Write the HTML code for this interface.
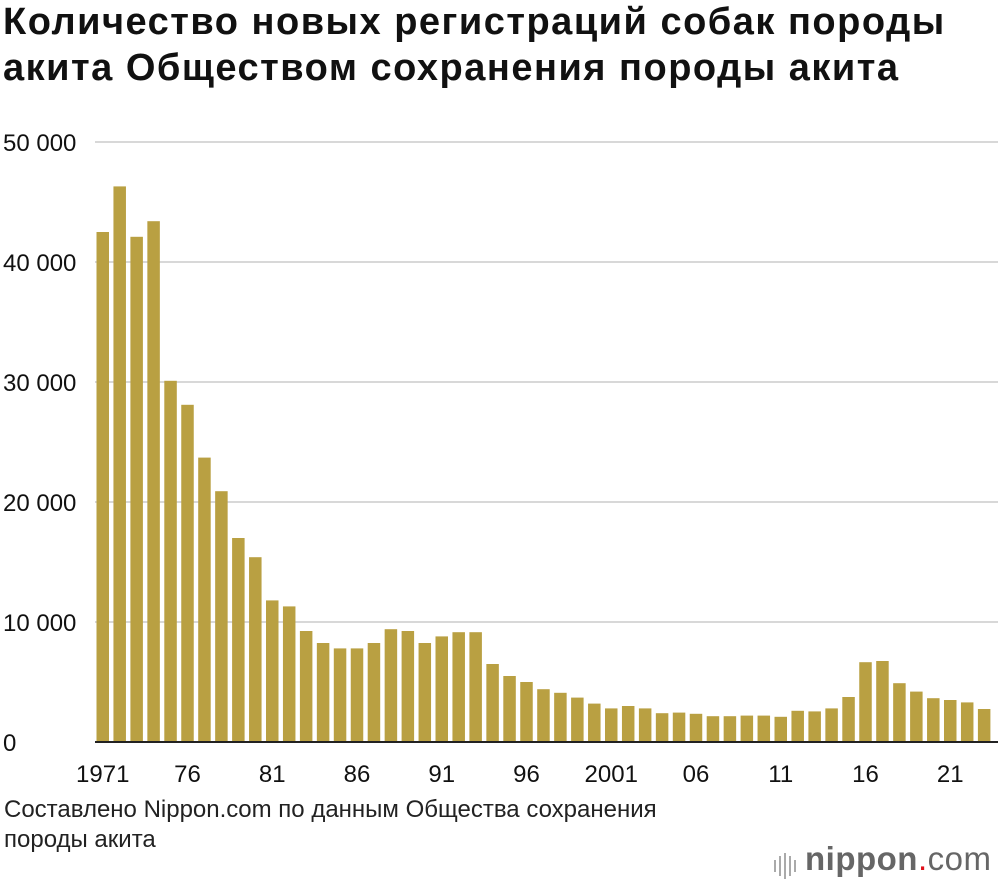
<!DOCTYPE html>
<html><head><meta charset="utf-8"><style>
body{margin:0;width:1000px;height:886px;background:#fff;font-family:"Liberation Sans",sans-serif;overflow:hidden;position:relative}
h1{position:absolute;left:3px;top:-1px;margin:0;font-size:38px;line-height:46px;font-weight:bold;color:#111;letter-spacing:1.5px;white-space:nowrap}
.src{position:absolute;left:4px;top:795px;font-size:24px;line-height:30px;color:#222}
.logo{position:absolute;left:805px;top:840px;font-size:33px;color:#666;letter-spacing:0.5px}
</style></head><body>
<h1>Количество новых регистраций собак породы<br>акита Обществом сохранения породы акита</h1>
<svg id="c" width="1000" height="790" style="position:absolute;left:0;top:0"></svg>
<div class="src">Составлено Nippon.com по данным Общества сохранения<br>породы акита</div>
<svg width="30" height="30" style="position:absolute;left:772px;top:850px">
<g stroke="#aaa" stroke-width="2"><line x1="3" y1="10" x2="3" y2="22"/><line x1="8" y1="6" x2="8" y2="26"/><line x1="13" y1="3" x2="13" y2="29"/><line x1="18" y1="6" x2="18" y2="26"/><line x1="23" y1="10" x2="23" y2="22"/></g></svg>
<div class="logo"><b>nippon</b><span style="color:#e0101a">.</span>com</div>
<script>
const years=[];for(let y=1971;y<=2023;y++)years.push(y);
const values=[42.5,46.3,42.1,43.4,30.1,28.1,23.7,20.9,17.0,15.4,11.8,11.3,9.25,8.25,7.8,7.8,8.25,9.4,9.25,8.25,8.8,9.15,9.15,6.5,5.5,5.0,4.4,4.1,3.7,3.2,2.8,3.0,2.8,2.4,2.45,2.35,2.15,2.15,2.2,2.2,2.1,2.6,2.55,2.8,3.75,6.65,6.75,4.9,4.2,3.65,3.5,3.3,2.75].map(v=>v*1000);
const yTicks=[0,10000,20000,30000,40000,50000];
const yTickLabels=["0","10 000","20 000","30 000","40 000","50 000"];
const xLabelYears=[1971,1976,1981,1986,1991,1996,2001,2006,2011,2016,2021];
const xLabelText=["1971","76","81","86","91","96","2001","06","11","16","21"];
const svg=document.getElementById('c');const NS='http://www.w3.org/2000/svg';
const yS=v=>742-v*600/50000;
const step=16.95,x0=96.5,bw=12.5;
const xS=y=>x0+(y-1971)*step;
function el(t,a){const e=document.createElementNS(NS,t);for(const k in a)e.setAttribute(k,a[k]);svg.appendChild(e);return e;}
yTicks.forEach((t,i)=>{
 const l=el('line',{x1:95,x2:998,y1:yS(t),y2:yS(t),stroke:t?'#ccc':'#222','stroke-width':t?1.5:2});
 
 
 const tx=el('text',{x:3,y:yS(t)+9,'font-size':24,fill:'#111'});tx.textContent=yTickLabels[i];
 
 
});
years.forEach((y,i)=>{
 const r=el('rect',{x:xS(y),y:yS(values[i]),width:bw,height:742-yS(values[i]),fill:'#b9a042'});
 
 
});
el('line',{x1:95,x2:998,y1:742,y2:742,stroke:'#222','stroke-width':2});
xLabelYears.forEach((y,i)=>{
 const t=el('text',{x:xS(y)+bw/2,y:782,'font-size':24,fill:'#111','text-anchor':'middle'});t.textContent=xLabelText[i];
 
 
});
</script>
</body></html>
